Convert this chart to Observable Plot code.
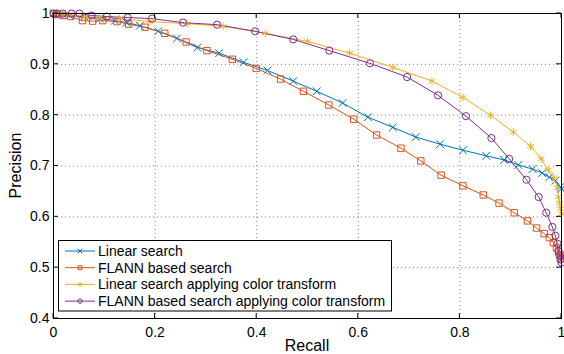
<!DOCTYPE html>
<html><head><meta charset="utf-8">
<script src="https://cdn.jsdelivr.net/npm/d3@7"></script>
<script src="https://cdn.jsdelivr.net/npm/@observablehq/plot@0.6"></script>
<style>body{margin:0;background:#fff} svg{display:block}</style>
</head><body><div id="chart"></div>
<script>
const seriesNames = ["Linear search", "FLANN based search", "Linear search applying color transform", "FLANN based search applying color transform"];
const seriesColors = ["#0072BD", "#D95319", "#EDB120", "#7E2F8E"];
const seriesSymbols = ["times", "square", "asterisk", "circle"];

const linearRecall = [0,0.012,0.032,0.061,0.091,0.121,0.144,0.170,0.206,0.243,0.283,0.326,0.374,0.421,0.472,0.518,0.569,0.619,0.668,0.713,0.761,0.806,0.852,0.887,0.915,0.943,0.962,0.976,0.988,0.998,1.000];
const linearPrecision = [1.000,0.998,0.996,0.994,0.990,0.986,0.982,0.976,0.965,0.951,0.933,0.922,0.904,0.888,0.867,0.847,0.824,0.796,0.776,0.757,0.743,0.731,0.720,0.712,0.702,0.694,0.686,0.678,0.671,0.659,0.655];

const flannRecall = [0,0.008,0.018,0.034,0.057,0.077,0.097,0.125,0.148,0.180,0.219,0.261,0.302,0.352,0.399,0.447,0.492,0.542,0.591,0.636,0.684,0.723,0.763,0.806,0.846,0.877,0.907,0.933,0.951,0.966,0.976,0.984,0.990,0.994,0.998,1.000];
const flannPrecision = [1.000,0.998,0.996,0.994,0.986,0.985,0.986,0.984,0.979,0.973,0.961,0.944,0.927,0.910,0.892,0.871,0.847,0.820,0.792,0.761,0.735,0.710,0.682,0.661,0.643,0.627,0.608,0.592,0.578,0.567,0.559,0.549,0.539,0.531,0.525,0.518];

const linearCtRecall = [0,0.012,0.032,0.061,0.091,0.130,0.190,0.263,0.334,0.417,0.500,0.583,0.668,0.745,0.806,0.860,0.905,0.939,0.960,0.974,0.986,0.992,0.994,0.996,0.998,1.000];
const linearCtPrecision = [1.000,1.000,0.998,0.994,0.992,0.990,0.984,0.980,0.975,0.961,0.945,0.922,0.894,0.867,0.835,0.800,0.767,0.739,0.714,0.692,0.675,0.657,0.639,0.627,0.616,0.606];

const flannCtRecall = [0,0.006,0.018,0.036,0.051,0.075,0.105,0.146,0.194,0.255,0.322,0.397,0.472,0.543,0.623,0.696,0.757,0.812,0.862,0.897,0.931,0.955,0.970,0.982,0.988,0.992,0.994,0.996,0.998,1.000];
const flannCtPrecision = [1.000,1.000,1.000,1.000,1.000,0.996,0.994,0.992,0.990,0.982,0.978,0.965,0.949,0.927,0.902,0.875,0.839,0.798,0.755,0.714,0.673,0.639,0.608,0.580,0.563,0.547,0.533,0.524,0.516,0.510];

const xTicks = [0, 0.2, 0.4, 0.6, 0.8, 1];
const yTicks = [0.4, 0.5, 0.6, 0.7, 0.8, 0.9, 1];

const allX = [linearRecall, flannRecall, linearCtRecall, flannCtRecall];
const allY = [linearPrecision, flannPrecision, linearCtPrecision, flannCtPrecision];
const rows = [];
seriesNames.forEach((name, i) => {
  allX[i].forEach((x, j) => rows.push({series: name, recall: x, precision: allY[i][j]}));
});

const W = 564, H = 354;
const mL = 53, mR = 3, mT = 13, mB = 36;
const font = "'Liberation Sans', Arial, Helvetica, sans-serif";

const plot = Plot.plot({
  width: W, height: H,
  marginLeft: mL, marginRight: mR, marginTop: mT, marginBottom: mB,
  style: {fontFamily: font, fontSize: "14px", color: "#000", background: "#fff"},
  x: {domain: [0, 1]},
  y: {domain: [0.4, 1]},
  color: {domain: seriesNames, range: seriesColors},
  symbol: {domain: seriesNames, range: seriesSymbols},
  marks: [
    Plot.gridX(xTicks.slice(1, -1), {stroke: "#888", strokeOpacity: 1, strokeWidth: 1, strokeDasharray: "1,3"}),
    Plot.gridY(yTicks.slice(1, -1), {stroke: "#888", strokeOpacity: 1, strokeWidth: 1, strokeDasharray: "1,3"}),
    Plot.line(rows, {x: "recall", y: "precision", z: "series", stroke: "series", strokeWidth: 1}),
    Plot.dot(rows, {x: "recall", y: "precision", stroke: "series", symbol: "series", r: 3.6, strokeWidth: 1, fill: "none"}),
    Plot.axisX(xTicks, {tickSize: 0, tickPadding: 9, tickFormat: d3.format("~g"), label: null, fontSize: 14}),
    Plot.axisY(yTicks, {tickSize: 0, tickPadding: 4, tickFormat: d3.format("~g"), label: null, fontSize: 14}),
    Plot.frame({stroke: "#000", strokeWidth: 1})
  ]
});
document.getElementById("chart").appendChild(plot);

const svg = d3.select(plot);
const sx = plot.scale("x"), sy = plot.scale("y");
const g = svg.append("g").attr("stroke", "#000").attr("stroke-width", 1);
const pTop = mT, pBottom = H - mB, pLeft = mL, pRight = W - mR;
xTicks.forEach(v => {
  const px = sx.apply(v);
  g.append("line").attr("x1", px).attr("x2", px).attr("y1", pBottom).attr("y2", pBottom - 5);
  g.append("line").attr("x1", px).attr("x2", px).attr("y1", pTop).attr("y2", pTop + 5);
});
yTicks.forEach(v => {
  const py = sy.apply(v);
  g.append("line").attr("y1", py).attr("y2", py).attr("x1", pLeft).attr("x2", pLeft + 5);
  g.append("line").attr("y1", py).attr("y2", py).attr("x1", pRight).attr("x2", pRight - 5);
});

// axis titles
svg.append("text").attr("x", (pLeft + pRight) / 2).attr("y", 351).attr("text-anchor", "middle")
  .attr("font-family", font).attr("font-size", 16).attr("fill", "#000").text("Recall");
svg.append("text").attr("transform", `translate(20.5,${(pTop + pBottom) / 2}) rotate(-90)`).attr("text-anchor", "middle")
  .attr("font-family", font).attr("font-size", 16).attr("fill", "#000").text("Precision");

// legend
const lg = svg.append("g");
lg.append("rect").attr("x", 58.5).attr("y", 240.5).attr("width", 333).attr("height", 70.5)
  .attr("fill", "#fff").attr("stroke", "#000").attr("stroke-width", 1);
const d3sym = {times: d3.symbolTimes, square: d3.symbolSquare, asterisk: d3.symbolAsterisk, circle: d3.symbolCircle};
seriesNames.forEach((name, i) => {
  const yy = 251 + i * 16.7;
  lg.append("line").attr("x1", 65).attr("x2", 95).attr("y1", yy).attr("y2", yy)
    .attr("stroke", seriesColors[i]).attr("stroke-width", 1);
  lg.append("path").attr("d", d3.symbol(d3sym[seriesSymbols[i]], 2.2 * 2.2 * Math.PI)())
    .attr("transform", `translate(80,${yy})`).attr("fill", "none").attr("stroke", seriesColors[i]).attr("stroke-width", 1);
  lg.append("text").attr("x", 98).attr("y", yy).attr("dy", "0.35em").attr("text-anchor", "start")
    .attr("font-family", font).attr("font-size", 14).attr("fill", "#000").text(name);
});
</script></body></html>
